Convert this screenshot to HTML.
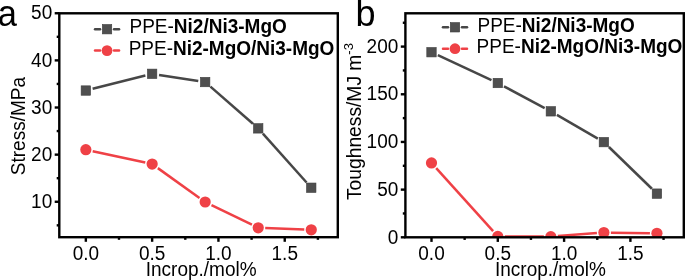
<!DOCTYPE html>
<html><head><meta charset="utf-8"><style>
html,body{margin:0;padding:0;background:#fff;width:685px;height:280px;overflow:hidden}
svg{display:block;will-change:transform}
text{font-family:"Liberation Sans", sans-serif;fill:#000}
</style></head><body>
<svg width="685" height="280" viewBox="0 0 685 280">
<defs>
<clipPath id="ca"><rect x="59.3" y="13.3" width="278.5" height="223.9"/></clipPath>
<clipPath id="cb"><rect x="405.4" y="13.3" width="278.4" height="224"/></clipPath>
</defs>
<text transform="translate(-2.2,25.5) scale(1,1.045)" font-size="34.5">a</text>
<text x="355.5" y="25.5" font-size="36">b</text>
<g clip-path="url(#ca)">
<line x1="92.63" y1="88.83" x2="145.35" y2="75.52" stroke="#474747" stroke-width="2.5"/>
<line x1="159.06" y1="74.89" x2="198.26" y2="80.98" stroke="#474747" stroke-width="2.5"/>
<line x1="210.45" y1="86.66" x2="252.95" y2="123.78" stroke="#474747" stroke-width="2.5"/>
<line x1="262.89" y1="133.61" x2="306.59" y2="182.51" stroke="#474747" stroke-width="2.5"/>
<rect x="81.14" y="85.84" width="9.4" height="9.4" fill="#4f4f4f" stroke="#3d3d3d" stroke-width="0.6"/>
<rect x="147.44" y="69.11" width="9.4" height="9.4" fill="#4f4f4f" stroke="#3d3d3d" stroke-width="0.6"/>
<rect x="200.48" y="77.36" width="9.4" height="9.4" fill="#4f4f4f" stroke="#3d3d3d" stroke-width="0.6"/>
<rect x="253.52" y="123.69" width="9.4" height="9.4" fill="#4f4f4f" stroke="#3d3d3d" stroke-width="0.6"/>
<rect x="306.56" y="183.03" width="9.4" height="9.4" fill="#4f4f4f" stroke="#3d3d3d" stroke-width="0.6"/>
<line x1="92.68" y1="151.17" x2="145.30" y2="162.58" stroke="#ef4146" stroke-width="2.5"/>
<line x1="157.83" y1="168.14" x2="199.49" y2="197.93" stroke="#ef4146" stroke-width="2.5"/>
<line x1="211.48" y1="205.07" x2="251.92" y2="224.73" stroke="#ef4146" stroke-width="2.5"/>
<line x1="265.21" y1="228.05" x2="304.27" y2="229.55" stroke="#ef4146" stroke-width="2.5"/>
<circle cx="85.84" cy="149.69" r="5.6" fill="#ef4146"/>
<circle cx="152.14" cy="164.07" r="5.6" fill="#ef4146"/>
<circle cx="205.18" cy="202.01" r="5.6" fill="#ef4146"/>
<circle cx="258.22" cy="227.79" r="5.6" fill="#ef4146"/>
<circle cx="311.26" cy="229.81" r="5.6" fill="#ef4146"/>
</g>
<rect x="59.30" y="13.30" width="278.50" height="223.90" fill="none" stroke="#000" stroke-width="2.4" stroke-linejoin="miter"/>
<line x1="54.70" y1="201.77" x2="59.30" y2="201.77" stroke="#000" stroke-width="2.4"/>
<line x1="54.70" y1="154.64" x2="59.30" y2="154.64" stroke="#000" stroke-width="2.4"/>
<line x1="54.70" y1="107.51" x2="59.30" y2="107.51" stroke="#000" stroke-width="2.4"/>
<line x1="54.70" y1="60.38" x2="59.30" y2="60.38" stroke="#000" stroke-width="2.4"/>
<line x1="54.70" y1="13.25" x2="59.30" y2="13.25" stroke="#000" stroke-width="2.4"/>
<line x1="56.70" y1="225.34" x2="59.30" y2="225.34" stroke="#000" stroke-width="2.4"/>
<line x1="56.70" y1="178.20" x2="59.30" y2="178.20" stroke="#000" stroke-width="2.4"/>
<line x1="56.70" y1="131.07" x2="59.30" y2="131.07" stroke="#000" stroke-width="2.4"/>
<line x1="56.70" y1="83.94" x2="59.30" y2="83.94" stroke="#000" stroke-width="2.4"/>
<line x1="56.70" y1="36.81" x2="59.30" y2="36.81" stroke="#000" stroke-width="2.4"/>
<line x1="85.84" y1="237.20" x2="85.84" y2="241.80" stroke="#000" stroke-width="2.4"/>
<line x1="152.14" y1="237.20" x2="152.14" y2="241.80" stroke="#000" stroke-width="2.4"/>
<line x1="218.44" y1="237.20" x2="218.44" y2="241.80" stroke="#000" stroke-width="2.4"/>
<line x1="284.74" y1="237.20" x2="284.74" y2="241.80" stroke="#000" stroke-width="2.4"/>
<line x1="118.99" y1="237.20" x2="118.99" y2="239.80" stroke="#000" stroke-width="2.4"/>
<line x1="185.29" y1="237.20" x2="185.29" y2="239.80" stroke="#000" stroke-width="2.4"/>
<line x1="251.59" y1="237.20" x2="251.59" y2="239.80" stroke="#000" stroke-width="2.4"/>
<line x1="317.89" y1="237.20" x2="317.89" y2="239.80" stroke="#000" stroke-width="2.4"/>
<text transform="translate(52.20,207.97) scale(1,1.05)" text-anchor="end" font-size="19">10</text>
<text transform="translate(52.20,160.84) scale(1,1.05)" text-anchor="end" font-size="19">20</text>
<text transform="translate(52.20,113.71) scale(1,1.05)" text-anchor="end" font-size="19">30</text>
<text transform="translate(52.20,66.58) scale(1,1.05)" text-anchor="end" font-size="19">40</text>
<text transform="translate(52.20,19.45) scale(1,1.05)" text-anchor="end" font-size="19">50</text>
<text transform="translate(85.84,259.60) scale(1,1.05)" text-anchor="middle" font-size="19">0.0</text>
<text transform="translate(152.14,259.60) scale(1,1.05)" text-anchor="middle" font-size="19">0.5</text>
<text transform="translate(218.44,259.60) scale(1,1.05)" text-anchor="middle" font-size="19">1.0</text>
<text transform="translate(284.74,259.60) scale(1,1.05)" text-anchor="middle" font-size="19">1.5</text>
<text transform="translate(201.15,276.20) scale(1,1.05)" text-anchor="middle" font-size="19">Incrop./mol%</text>
<line x1="95.04" y1="29.20" x2="100.04" y2="29.20" stroke="#474747" stroke-width="2.5" stroke-linecap="round"/>
<line x1="114.04" y1="29.20" x2="119.04" y2="29.20" stroke="#474747" stroke-width="2.5" stroke-linecap="round"/>
<rect x="102.34" y="24.50" width="9.4" height="9.4" fill="#4f4f4f" stroke="#3d3d3d" stroke-width="0.6"/>
<text transform="translate(129.54,33.40) scale(1,1.05)" font-size="19">PPE-<tspan font-weight="bold">Ni2/Ni3-MgO</tspan></text>
<line x1="95.04" y1="50.60" x2="100.04" y2="50.60" stroke="#ef4146" stroke-width="2.5" stroke-linecap="round"/>
<line x1="114.04" y1="50.60" x2="119.04" y2="50.60" stroke="#ef4146" stroke-width="2.5" stroke-linecap="round"/>
<circle cx="107.04" cy="50.60" r="5.4" fill="#ef4146"/>
<text transform="translate(128.64,54.80) scale(1,1.05)" font-size="19">PPE-<tspan font-weight="bold">Ni2-MgO/Ni3-MgO</tspan></text>
<text transform="translate(24.7,126.1) rotate(-90) scale(1,1.05)" text-anchor="middle" font-size="19">Stress/MPa</text>
<g clip-path="url(#cb)">
<line x1="437.85" y1="55.17" x2="491.45" y2="80.07" stroke="#474747" stroke-width="2.5"/>
<line x1="503.97" y1="86.32" x2="544.67" y2="108.05" stroke="#474747" stroke-width="2.5"/>
<line x1="556.89" y1="114.86" x2="597.83" y2="138.63" stroke="#474747" stroke-width="2.5"/>
<line x1="608.90" y1="147.02" x2="651.90" y2="188.75" stroke="#474747" stroke-width="2.5"/>
<rect x="426.80" y="47.53" width="9.4" height="9.4" fill="#4f4f4f" stroke="#3d3d3d" stroke-width="0.6"/>
<rect x="493.10" y="78.32" width="9.4" height="9.4" fill="#4f4f4f" stroke="#3d3d3d" stroke-width="0.6"/>
<rect x="546.14" y="106.64" width="9.4" height="9.4" fill="#4f4f4f" stroke="#3d3d3d" stroke-width="0.6"/>
<rect x="599.18" y="137.44" width="9.4" height="9.4" fill="#4f4f4f" stroke="#3d3d3d" stroke-width="0.6"/>
<rect x="652.22" y="188.93" width="9.4" height="9.4" fill="#4f4f4f" stroke="#3d3d3d" stroke-width="0.6"/>
<line x1="436.19" y1="168.12" x2="493.11" y2="231.15" stroke="#ef4146" stroke-width="2.5"/>
<line x1="504.80" y1="236.38" x2="543.84" y2="236.59" stroke="#ef4146" stroke-width="2.5"/>
<line x1="557.82" y1="236.09" x2="596.90" y2="233.07" stroke="#ef4146" stroke-width="2.5"/>
<line x1="610.88" y1="232.63" x2="649.92" y2="233.19" stroke="#ef4146" stroke-width="2.5"/>
<circle cx="431.50" cy="162.93" r="5.6" fill="#ef4146"/>
<circle cx="497.80" cy="236.35" r="5.6" fill="#ef4146"/>
<circle cx="550.84" cy="236.63" r="5.6" fill="#ef4146"/>
<circle cx="603.88" cy="232.53" r="5.6" fill="#ef4146"/>
<circle cx="656.92" cy="233.30" r="5.6" fill="#ef4146"/>
</g>
<rect x="405.40" y="13.30" width="278.40" height="224.00" fill="none" stroke="#000" stroke-width="2.4" stroke-linejoin="miter"/>
<line x1="400.80" y1="237.30" x2="405.40" y2="237.30" stroke="#000" stroke-width="2.4"/>
<line x1="400.80" y1="189.62" x2="405.40" y2="189.62" stroke="#000" stroke-width="2.4"/>
<line x1="400.80" y1="141.95" x2="405.40" y2="141.95" stroke="#000" stroke-width="2.4"/>
<line x1="400.80" y1="94.28" x2="405.40" y2="94.28" stroke="#000" stroke-width="2.4"/>
<line x1="400.80" y1="46.60" x2="405.40" y2="46.60" stroke="#000" stroke-width="2.4"/>
<line x1="402.80" y1="213.46" x2="405.40" y2="213.46" stroke="#000" stroke-width="2.4"/>
<line x1="402.80" y1="165.79" x2="405.40" y2="165.79" stroke="#000" stroke-width="2.4"/>
<line x1="402.80" y1="118.11" x2="405.40" y2="118.11" stroke="#000" stroke-width="2.4"/>
<line x1="402.80" y1="70.44" x2="405.40" y2="70.44" stroke="#000" stroke-width="2.4"/>
<line x1="402.80" y1="22.76" x2="405.40" y2="22.76" stroke="#000" stroke-width="2.4"/>
<line x1="431.50" y1="237.30" x2="431.50" y2="241.90" stroke="#000" stroke-width="2.4"/>
<line x1="497.80" y1="237.30" x2="497.80" y2="241.90" stroke="#000" stroke-width="2.4"/>
<line x1="564.10" y1="237.30" x2="564.10" y2="241.90" stroke="#000" stroke-width="2.4"/>
<line x1="630.40" y1="237.30" x2="630.40" y2="241.90" stroke="#000" stroke-width="2.4"/>
<line x1="464.65" y1="237.30" x2="464.65" y2="239.90" stroke="#000" stroke-width="2.4"/>
<line x1="530.95" y1="237.30" x2="530.95" y2="239.90" stroke="#000" stroke-width="2.4"/>
<line x1="597.25" y1="237.30" x2="597.25" y2="239.90" stroke="#000" stroke-width="2.4"/>
<line x1="663.55" y1="237.30" x2="663.55" y2="239.90" stroke="#000" stroke-width="2.4"/>
<text transform="translate(398.30,243.50) scale(1,1.05)" text-anchor="end" font-size="19">0</text>
<text transform="translate(398.30,195.82) scale(1,1.05)" text-anchor="end" font-size="19">50</text>
<text transform="translate(398.30,148.15) scale(1,1.05)" text-anchor="end" font-size="19">100</text>
<text transform="translate(398.30,100.48) scale(1,1.05)" text-anchor="end" font-size="19">150</text>
<text transform="translate(398.30,52.80) scale(1,1.05)" text-anchor="end" font-size="19">200</text>
<text transform="translate(431.50,259.60) scale(1,1.05)" text-anchor="middle" font-size="19">0.0</text>
<text transform="translate(497.80,259.60) scale(1,1.05)" text-anchor="middle" font-size="19">0.5</text>
<text transform="translate(564.10,259.60) scale(1,1.05)" text-anchor="middle" font-size="19">1.0</text>
<text transform="translate(630.40,259.60) scale(1,1.05)" text-anchor="middle" font-size="19">1.5</text>
<text transform="translate(550.40,276.20) scale(1,1.05)" text-anchor="middle" font-size="19">Incrop./mol%</text>
<line x1="443.00" y1="27.30" x2="448.00" y2="27.30" stroke="#474747" stroke-width="2.5" stroke-linecap="round"/>
<line x1="462.00" y1="27.30" x2="467.00" y2="27.30" stroke="#474747" stroke-width="2.5" stroke-linecap="round"/>
<rect x="450.30" y="22.60" width="9.4" height="9.4" fill="#4f4f4f" stroke="#3d3d3d" stroke-width="0.6"/>
<text transform="translate(477.50,31.50) scale(1,1.05)" font-size="19">PPE-<tspan font-weight="bold">Ni2/Ni3-MgO</tspan></text>
<line x1="443.00" y1="48.70" x2="448.00" y2="48.70" stroke="#ef4146" stroke-width="2.5" stroke-linecap="round"/>
<line x1="462.00" y1="48.70" x2="467.00" y2="48.70" stroke="#ef4146" stroke-width="2.5" stroke-linecap="round"/>
<circle cx="455.00" cy="48.70" r="5.4" fill="#ef4146"/>
<text transform="translate(476.60,52.90) scale(1,1.05)" font-size="19">PPE-<tspan font-weight="bold">Ni2-MgO/Ni3-MgO</tspan></text>
<text transform="translate(361.0,121.55) rotate(-90) scale(1,1.05)" text-anchor="middle" font-size="19.25">Toughness/MJ m<tspan dy="-7.5" font-size="13">-3</tspan></text>
</svg>
</body></html>
